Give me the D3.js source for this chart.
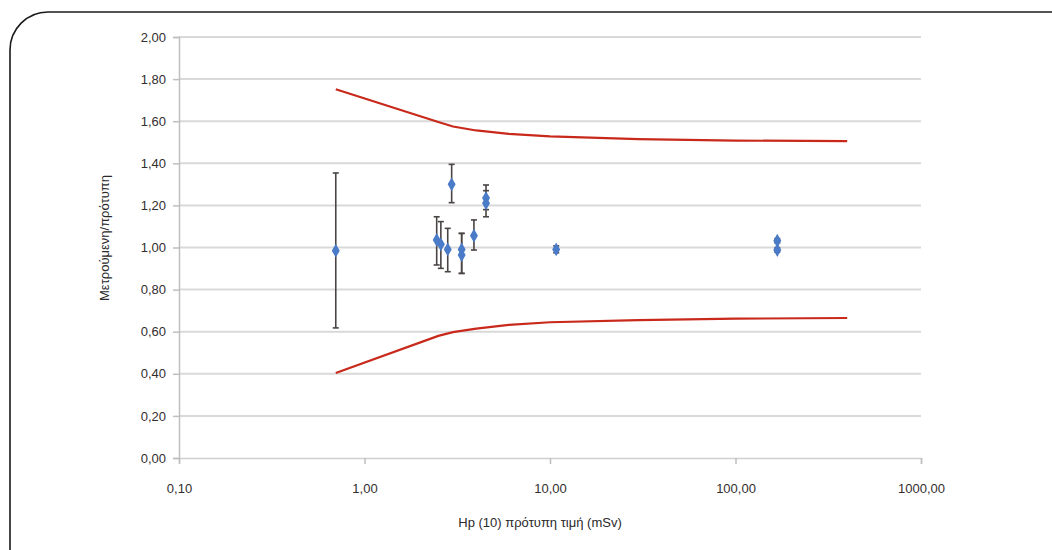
<!DOCTYPE html>
<html>
<head>
<meta charset="utf-8">
<script src="https://cdn.jsdelivr.net/npm/d3@7"></script>
<style>
  html, body { margin: 0; padding: 0; background: #fff; }
  svg { display: block; font-family: "Liberation Sans", Arial, sans-serif; }
</style>
</head>
<body>
<svg id="chart" width="1052" height="550"></svg>
<script>
// Reference dose (mSv) and measured/reference ratio, with error bar limits
const refDose   = [0.70, 2.45, 2.58, 2.81, 2.95, 3.34, 3.34, 3.89, 4.52, 4.52, 10.8, 168, 168];
const ratio     = [0.985, 1.036, 1.015, 0.991, 1.30, 0.991, 0.964, 1.056, 1.235, 1.210, 0.991, 1.032, 0.988];
const errLow    = [0.618, 0.917, 0.901, 0.885, 1.213, 0.877, 0.877, 0.988, 1.180, 1.146, 0.975, 1.022, 0.978];
const errHigh   = [1.354, 1.146, 1.123, 1.091, 1.395, 1.067, 1.067, 1.131, 1.297, 1.270, 1.008, 1.042, 0.998];

// Acceptance limits (trumpet curve)
const limitDose  = [0.7, 2.5, 3.0, 4.0, 6.0, 10, 30, 100, 400];
const limitUpper = [1.752, 1.596, 1.575, 1.556, 1.54, 1.528, 1.515, 1.508, 1.505];
const limitLower = [0.404, 0.580, 0.598, 0.615, 0.632, 0.645, 0.655, 0.662, 0.665];

const xTicks = [0.1, 1, 10, 100, 1000];
const xTickLabels = ["0,10", "1,00", "10,00", "100,00", "1000,00"];
const yTicks = [0, 0.2, 0.4, 0.6, 0.8, 1.0, 1.2, 1.4, 1.6, 1.8, 2.0];

const svg = d3.select("#chart");

// Rounded frame
svg.append("rect")
  .attr("x", 10).attr("y", 12)
  .attr("width", 1080).attr("height", 600)
  .attr("rx", 38).attr("ry", 38)
  .attr("fill", "none").attr("stroke", "#1a1a1a").attr("stroke-width", 1.6);

const x = d3.scaleLog().domain([0.1, 1000]).range([179, 921]);
const y = d3.scaleLinear().domain([0, 2]).range([458, 37]);

// Horizontal gridlines
svg.append("g").selectAll("line")
  .data(yTicks.filter(d => d > 0))
  .join("line")
  .attr("x1", 179).attr("x2", 921)
  .attr("y1", d => y(d)).attr("y2", d => y(d))
  .attr("stroke", "#d9d9d9").attr("stroke-width", 2);

// Y axis
const fmt = d => d.toFixed(2).replace(".", ",");
const yAxis = svg.append("g")
  .attr("transform", "translate(179,0)")
  .call(d3.axisLeft(y).tickValues(yTicks).tickFormat(fmt).tickSize(6).tickPadding(7));
yAxis.select(".domain").attr("stroke", "#bfbfbf").attr("stroke-width", 1.5);
yAxis.selectAll(".tick line").attr("stroke", "#bfbfbf").attr("stroke-width", 1.5);
yAxis.selectAll(".tick text").attr("font-size", 13).attr("fill", "#332e2e")
  .attr("font-family", "Liberation Sans, Arial, sans-serif");

// X axis
const xAxis = svg.append("g")
  .attr("transform", "translate(0,458)")
  .call(d3.axisBottom(x).tickValues(xTicks)
    .tickFormat((d, i) => xTickLabels[i]).tickSize(6).tickPadding(20));
xAxis.select(".domain").attr("stroke", "#d0d0d0").attr("stroke-width", 1.5);
xAxis.selectAll(".tick line").attr("stroke", "#bfbfbf").attr("stroke-width", 1.5);
xAxis.selectAll(".tick text").attr("font-size", 13).attr("fill", "#332e2e")
  .attr("font-family", "Liberation Sans, Arial, sans-serif");

// Limit curves
const line = d3.line().x(d => x(d[0])).y(d => y(d[1]));
[limitUpper, limitLower].forEach(arr => {
  svg.append("path")
    .datum(limitDose.map((d, i) => [d, arr[i]]))
    .attr("d", line)
    .attr("fill", "none").attr("stroke", "#c8291b").attr("stroke-width", 2.2);
});

// Error bars
const pts = refDose.map((d, i) => ({ x: d, y: ratio[i], lo: errLow[i], hi: errHigh[i] }));
const eb = svg.append("g").attr("stroke", "#4a4444").attr("stroke-width", 1.6);
eb.selectAll("line.v").data(pts).join("line")
  .attr("x1", d => x(d.x)).attr("x2", d => x(d.x))
  .attr("y1", d => y(d.lo)).attr("y2", d => y(d.hi));
eb.selectAll("line.t").data(pts).join("line")
  .attr("x1", d => x(d.x) - 3).attr("x2", d => x(d.x) + 3)
  .attr("y1", d => y(d.hi)).attr("y2", d => y(d.hi));
eb.selectAll("line.b").data(pts).join("line")
  .attr("x1", d => x(d.x) - 3).attr("x2", d => x(d.x) + 3)
  .attr("y1", d => y(d.lo)).attr("y2", d => y(d.lo));

// Markers
svg.append("g").selectAll("path").data(pts).join("path")
  .attr("transform", d => `translate(${x(d.x)},${y(d.y)})`)
  .attr("d", d3.symbol().type(d3.symbolDiamond).size(55))
  .attr("fill", "#4a7bc8");

// Axis titles
svg.append("text")
  .attr("x", 540).attr("y", 527)
  .attr("text-anchor", "middle").attr("font-size", 13).attr("fill", "#2a2a2a")
  .text("Hp (10) πρότυπη τιμή (mSv)");
svg.append("text")
  .attr("transform", "translate(109,238) rotate(-90)")
  .attr("text-anchor", "middle").attr("font-size", 13).attr("fill", "#2a2a2a")
  .text("Μετρούμενη/πρότυπη");
</script>
</body>
</html>
